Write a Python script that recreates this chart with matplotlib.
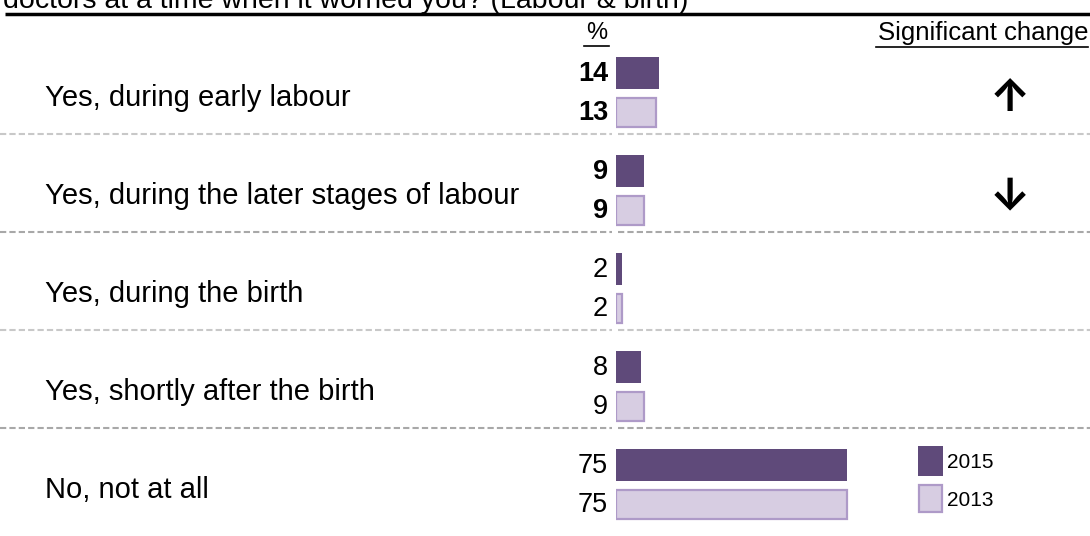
import matplotlib
matplotlib.use("Agg")
import matplotlib.pyplot as plt

plt.rcParams['font.family'] = ['Liberation Sans', 'DejaVu Sans']

categories = ["Yes, during early labour",
              "Yes, during the later stages of labour",
              "Yes, during the birth",
              "Yes, shortly after the birth",
              "No, not at all"]
vals_2015 = [14, 9, 2, 8, 75]
vals_2013 = [13, 9, 2, 9, 75]
bold_rows = [True, True, False, False, False]
sig_change = ["\u2191", "\u2193", "", "", ""]
years = ["2015", "2013"]

c15 = "#5f4a7a"
c13_face = "#d7cde2"
c13_edge = "#ae9ac8"

W, H = 1090, 536
fig = plt.figure(figsize=(W / 100, H / 100), dpi=100)

# background axes in pixel coordinates for text and rules
bg = fig.add_axes([0, 0, 1, 1])
bg.set_xlim(0, W)
bg.set_ylim(H, 0)
bg.axis("off")

# bars axes: x in percent, y in pixels
x0, px_per = 616, 3.08
bx = fig.add_axes([x0 / W, 0, 100 * px_per / W, 1])
bx.set_xlim(0, 100)
bx.set_ylim(H, 0)
bx.axis("off")

pitch = 98
y15 = [73 + pitch * i for i in range(len(categories))]
y13 = [112.5 + pitch * i for i in range(len(categories))]

bx.barh(y15, vals_2015, height=32, color=c15, edgecolor=c15, linewidth=0)
bx.barh(y13, vals_2013, height=29, color=c13_face, edgecolor=c13_edge, linewidth=1.6)

# cut-off question title and top rule
fig.text(3 / W, 1 - 8 / H, "doctors at a time when it worried you? (Labour & birth)",
         fontsize=20.5, va="baseline", ha="left")
bg.plot([5, W], [14, 14], color="black", lw=2.5, solid_capstyle="butt")

bg.text(597, 33, "%", fontsize=17, ha="center", va="center")
bg.plot([584, 609], [46, 46], color="black", lw=1.2)
bg.text(1088, 33, "Significant change", fontsize=18.5, ha="right", va="center")
bg.plot([876, 1088], [47, 47], color="black", lw=1.2)

for i, cat in enumerate(categories):
    bg.text(45, 98 + pitch * i, cat, fontsize=21, ha="left", va="center")
    w = "bold" if bold_rows[i] else "normal"
    bg.text(608, y15[i] + 1, str(vals_2015[i]), fontsize=19.5, ha="right", va="center", fontweight=w)
    bg.text(608, y13[i] + 1, str(vals_2013[i]), fontsize=19.5, ha="right", va="center", fontweight=w)
    if sig_change[i]:
        bg.text(1010, y15[i] + 26, sig_change[i], fontsize=32, ha="center", va="center",
                family=["Inter", "DejaVu Sans"], fontweight="bold")
    if i < len(categories) - 1:
        ys = 134 + pitch * i
        col = "#c8c8c8" if i % 2 == 0 else "#a8a8a8"
        bg.plot([0, 612], [ys, ys], color=col, lw=1.5, ls=(0, (3, 1.5)))
        bg.plot([618, W], [ys, ys], color=col, lw=1.5, ls=(0, (3, 1.5)))

# legend
bg.add_patch(plt.Rectangle((918, 446), 25, 30, facecolor=c15, edgecolor=c15, lw=0))
bg.add_patch(plt.Rectangle((919, 485), 23, 27, facecolor=c13_face, edgecolor=c13_edge, lw=1.6))
bg.text(947, 462, years[0], fontsize=15, ha="left", va="center")
bg.text(947, 500, years[1], fontsize=15, ha="left", va="center")

fig.savefig("out.png", dpi=100)
